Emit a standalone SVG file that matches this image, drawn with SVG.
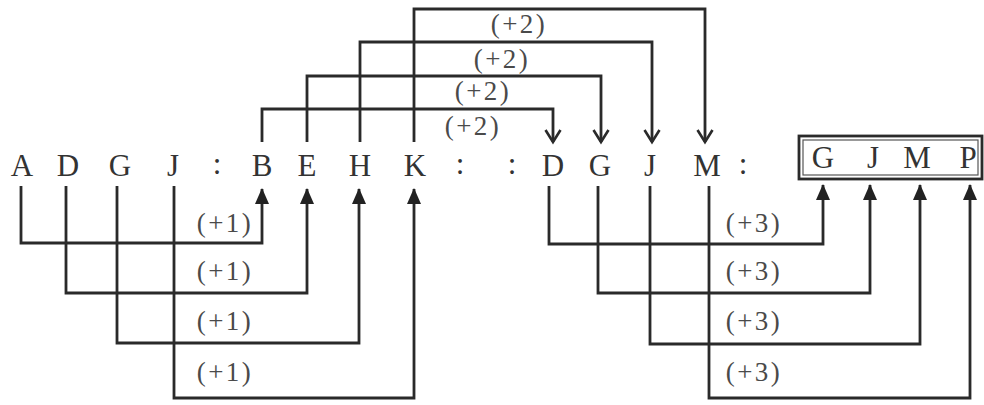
<svg xmlns="http://www.w3.org/2000/svg" width="984" height="405" viewBox="0 0 984 405">
<style>
  .lt { font-family: "Liberation Serif", "Times New Roman", serif; font-size: 31px; fill: #333; text-anchor: middle; }
  .lb { font-family: "Liberation Serif", "Times New Roman", serif; font-size: 27px; fill: #4a4a4a; text-anchor: middle; letter-spacing: 2.5px; }
  .cn { fill: none; stroke: #2a2a2a; stroke-width: 2.8; }
  .up { marker-end: url(#upArrow); }
  .dn { marker-end: url(#downArrow); }
</style>
<defs>
  <marker id="upArrow" markerUnits="userSpaceOnUse" markerWidth="16" markerHeight="16" viewBox="0 0 16 16" refX="15" refY="8" orient="auto">
    <path d="M0,1 L16,8 L0,15 z" fill="#222"/>
  </marker>
  <marker id="downArrow" markerUnits="userSpaceOnUse" markerWidth="18" markerHeight="18" viewBox="0 0 18 18" refX="15" refY="9" orient="auto">
    <path d="M3,1.5 L15,9 L3,16.5" fill="none" stroke="#2a2a2a" stroke-width="2.6"/>
  </marker>
</defs>
<rect width="984" height="405" fill="#fff"/>

<g id="connectors">
  <!-- top (+2) connectors -->
  <path class="cn dn" d="M262,142 V109 H553 V142"/>
  <path class="cn dn" d="M307,142 V76 H601 V142"/>
  <path class="cn dn" d="M360,142 V42 H652 V142"/>
  <path class="cn dn" d="M414,142 V9 H705 V142"/>
  <!-- bottom left (+1) connectors -->
  <path class="cn up" d="M21,186 V243 H262 V189"/>
  <path class="cn up" d="M66,186 V293 H307 V189"/>
  <path class="cn up" d="M117,186 V343 H359 V189"/>
  <path class="cn up" d="M174,186 V398 H414 V189"/>
  <!-- bottom right (+3) connectors -->
  <path class="cn up" d="M549,186 V244 H823 V185"/>
  <path class="cn up" d="M598,186 V293 H870 V185"/>
  <path class="cn up" d="M650,186 V344 H920 V185"/>
  <path class="cn up" d="M709,186 V398 H970 V185"/>
  <!-- labels -->
  <text class="lb" x="519" y="33">(+2)</text>
  <text class="lb" x="502" y="68">(+2)</text>
  <text class="lb" x="483" y="100">(+2)</text>
  <text class="lb" x="473" y="135">(+2)</text>
  <text class="lb" x="225" y="232">(+1)</text>
  <text class="lb" x="225" y="280">(+1)</text>
  <text class="lb" x="225" y="330">(+1)</text>
  <text class="lb" x="225" y="381">(+1)</text>
  <text class="lb" x="754" y="232">(+3)</text>
  <text class="lb" x="754" y="280">(+3)</text>
  <text class="lb" x="754" y="330">(+3)</text>
  <text class="lb" x="754" y="381">(+3)</text>
</g>

<g id="group1">
  <g id="n-A"><text class="lt" x="22" y="176">A</text></g>
  <g id="n-D1"><text class="lt" x="68" y="176">D</text></g>
  <g id="n-G1"><text class="lt" x="120" y="176">G</text></g>
  <g id="n-J1"><text class="lt" x="173" y="176">J</text></g>
</g>
<g id="sep1"><text class="lt" x="217" y="174">:</text></g>
<g id="group2">
  <g id="n-B"><text class="lt" x="262" y="176">B</text></g>
  <g id="n-E"><text class="lt" x="307" y="176">E</text></g>
  <g id="n-H"><text class="lt" x="360" y="176">H</text></g>
  <g id="n-K"><text class="lt" x="415" y="176">K</text></g>
</g>
<g id="sep2"><text class="lt" x="460" y="174">:</text><text class="lt" x="512" y="174">:</text></g>
<g id="group3">
  <g id="n-D2"><text class="lt" x="553" y="176">D</text></g>
  <g id="n-G2"><text class="lt" x="600" y="176">G</text></g>
  <g id="n-J2"><text class="lt" x="650" y="176">J</text></g>
  <g id="n-M1"><text class="lt" x="707" y="176">M</text></g>
</g>
<g id="sep3"><text class="lt" x="743" y="174">:</text></g>
<g id="answer">
  <rect x="799" y="136" width="183" height="43" fill="#fff" stroke="#2a2a2a" stroke-width="2.8"/>
  <rect x="803" y="140" width="175" height="35" fill="none" stroke="#555" stroke-width="1.2"/>
  <g id="n-G3"><text class="lt" x="823" y="168">G</text></g>
  <g id="n-J3"><text class="lt" x="873" y="168">J</text></g>
  <g id="n-M2"><text class="lt" x="917" y="168">M</text></g>
  <g id="n-P"><text class="lt" x="968" y="168">P</text></g>
</g>
</svg>
